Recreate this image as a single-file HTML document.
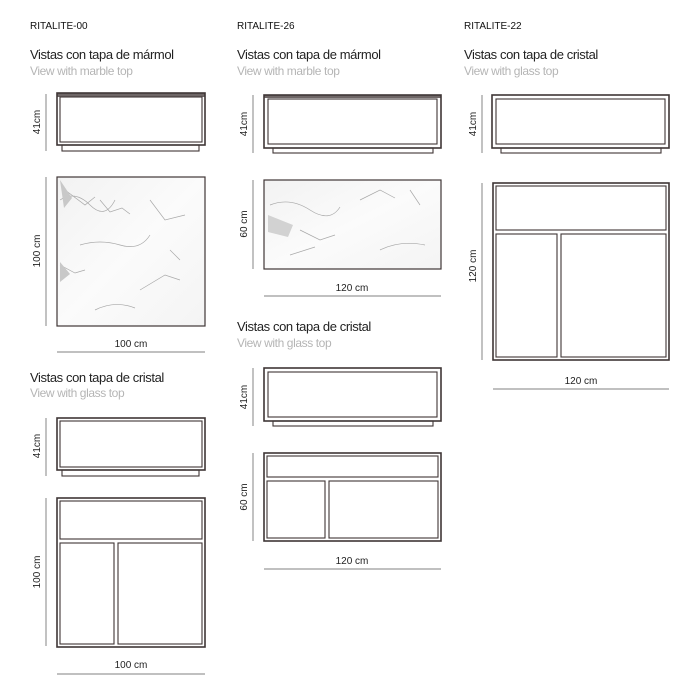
<!DOCTYPE html>
<html><head><meta charset="utf-8"><style>
html,body{margin:0;padding:0;background:#fff;}
svg{display:block;font-family:"Liberation Sans",Arial,sans-serif;}
.o{fill:none;stroke:#3f3636;stroke-width:1.6}
.i{fill:none;stroke:#3f3636;stroke-width:1.1}
.d{stroke:#9a9a9a;stroke-width:1.2}
.h{font-size:10px;fill:#111}
.t{font-size:13px;fill:#222;letter-spacing:-0.4px}
.s{font-size:12px;fill:#b5b5b5;letter-spacing:-0.4px}
.l{font-size:10px;fill:#222}
.v{stroke:#a8a8a8;stroke-width:0.7;fill:none}
</style></head><body>
<svg width="700" height="700" viewBox="0 0 700 700">
<defs>
<linearGradient id="m" x1="0" y1="0" x2="1" y2="1"><stop offset="0" stop-color="#f2f2f2"/><stop offset="0.5" stop-color="#fbfbfb"/><stop offset="1" stop-color="#f4f4f4"/></linearGradient>
</defs>
<text class="h" x="30" y="29">RITALITE-00</text>
<text class="h" x="237" y="29">RITALITE-26</text>
<text class="h" x="464" y="29">RITALITE-22</text>

<text class="t" x="30" y="59">Vistas con tapa de mármol</text>
<text class="s" x="30" y="75">View with marble  top</text>
<text class="t" x="237" y="59">Vistas con tapa de mármol</text>
<text class="s" x="237" y="75">View with marble top</text>
<text class="t" x="464" y="59">Vistas con tapa de cristal</text>
<text class="s" x="464" y="75">View with glass top</text>

<line class="d" x1="46" y1="94" x2="46" y2="151"/>
<text class="l" transform="translate(40,122) rotate(-90)" text-anchor="middle">41cm</text>
<rect x="57" y="93" width="148" height="4" fill="#6e6666"/>
<rect class="o" x="57" y="93" width="148" height="52"/>
<rect class="i" x="60" y="97" width="142" height="45"/>
<rect class="i" x="62" y="145" width="137" height="6"/>
<line class="d" x1="46" y1="177" x2="46" y2="326"/>
<text class="l" transform="translate(40,251) rotate(-90)" text-anchor="middle">100 cm</text>
<rect x="57" y="177" width="148" height="149" fill="url(#m)" stroke="#3f3636" stroke-width="1.2"/>
<path class="v" d="M60 200 q15 -10 30 5 t25 -5 M65 190 l20 15 l10 -8 M80 245 q20 -6 40 0 t30 -10 M60 265 l15 8 l10 -3 M140 290 l25 -15 l15 5 M150 200 l15 20 l20 -5 M95 310 q20 -10 40 -2 M100 200 l10 12 l12 -4 l8 6 M170 250 l10 10"/>
<path d="M60 180 l12 18 l-8 10 z M60 262 l10 12 l-10 8 z" fill="#c8c8c8"/>
<line class="d" x1="57" y1="352" x2="205" y2="352"/>
<text class="l" x="131" y="347" text-anchor="middle">100 cm</text>

<text class="t" x="30" y="382">Vistas con tapa de cristal</text>
<text class="s" x="30" y="397">View with glass top</text>
<line class="d" x1="46" y1="418" x2="46" y2="476"/>
<text class="l" transform="translate(40,446) rotate(-90)" text-anchor="middle">41cm</text>
<rect class="o" x="57" y="418" width="148" height="52"/>
<rect class="i" x="60" y="421" width="142" height="46"/>
<rect class="i" x="62" y="470" width="137" height="6"/>
<line class="d" x1="46" y1="498" x2="46" y2="646"/>
<text class="l" transform="translate(40,572) rotate(-90)" text-anchor="middle">100 cm</text>
<rect class="o" x="57" y="498" width="148" height="149"/>
<rect class="i" x="60" y="501" width="142" height="38"/>
<rect class="i" x="60" y="543" width="54" height="101"/>
<rect class="i" x="118" y="543" width="84" height="101"/>
<line class="d" x1="57" y1="674" x2="205" y2="674"/>
<text class="l" x="131" y="668" text-anchor="middle">100 cm</text>

<line class="d" x1="253" y1="95" x2="253" y2="153"/>
<text class="l" transform="translate(247,124) rotate(-90)" text-anchor="middle">41cm</text>
<rect x="264" y="95" width="177" height="3" fill="#6e6666"/>
<rect class="o" x="264" y="95" width="177" height="53"/>
<rect class="i" x="268" y="99" width="169" height="45"/>
<rect class="i" x="273" y="148" width="160" height="5"/>
<line class="d" x1="253" y1="180" x2="253" y2="269"/>
<text class="l" transform="translate(247,224) rotate(-90)" text-anchor="middle">60 cm</text>
<rect x="264" y="180" width="177" height="89" fill="url(#m)" stroke="#3f3636" stroke-width="1.2"/>
<path class="v" d="M270 205 q20 -8 40 5 t30 -3 M300 230 l20 10 l15 -5 M360 200 l20 -10 l15 8 M380 250 q20 -10 45 -5 M410 190 l10 15 M290 255 l25 -8"/>
<path d="M268 215 l25 10 l-5 12 l-20 -5 z" fill="#d2d2d2"/>
<line class="d" x1="264" y1="296" x2="441" y2="296"/>
<text class="l" x="352" y="291" text-anchor="middle">120 cm</text>

<text class="t" x="237" y="331">Vistas con tapa de cristal</text>
<text class="s" x="237" y="347">View with glass top</text>
<line class="d" x1="253" y1="368" x2="253" y2="426"/>
<text class="l" transform="translate(247,397) rotate(-90)" text-anchor="middle">41cm</text>
<rect class="o" x="264" y="368" width="177" height="53"/>
<rect class="i" x="268" y="372" width="169" height="45"/>
<rect class="i" x="273" y="421" width="160" height="5"/>
<line class="d" x1="253" y1="453" x2="253" y2="541"/>
<text class="l" transform="translate(247,497) rotate(-90)" text-anchor="middle">60 cm</text>
<rect class="o" x="264" y="453" width="177" height="88"/>
<rect class="i" x="267" y="456" width="171" height="21"/>
<rect class="i" x="267" y="481" width="58" height="57"/>
<rect class="i" x="329" y="481" width="109" height="57"/>
<line class="d" x1="264" y1="569" x2="441" y2="569"/>
<text class="l" x="352" y="564" text-anchor="middle">120 cm</text>

<line class="d" x1="482" y1="95" x2="482" y2="153"/>
<text class="l" transform="translate(476,124) rotate(-90)" text-anchor="middle">41cm</text>
<rect class="o" x="492" y="95" width="177" height="53"/>
<rect class="i" x="496" y="99" width="169" height="45"/>
<rect class="i" x="501" y="148" width="160" height="5"/>
<line class="d" x1="482" y1="183" x2="482" y2="360"/>
<text class="l" transform="translate(476,266) rotate(-90)" text-anchor="middle">120 cm</text>
<rect class="o" x="493" y="183" width="176" height="177"/>
<rect class="i" x="496" y="186" width="170" height="44"/>
<rect class="i" x="496" y="234" width="61" height="123"/>
<rect class="i" x="561" y="234" width="105" height="123"/>
<line class="d" x1="493" y1="389" x2="669" y2="389"/>
<text class="l" x="581" y="384" text-anchor="middle">120 cm</text>
</svg>
</body></html>
